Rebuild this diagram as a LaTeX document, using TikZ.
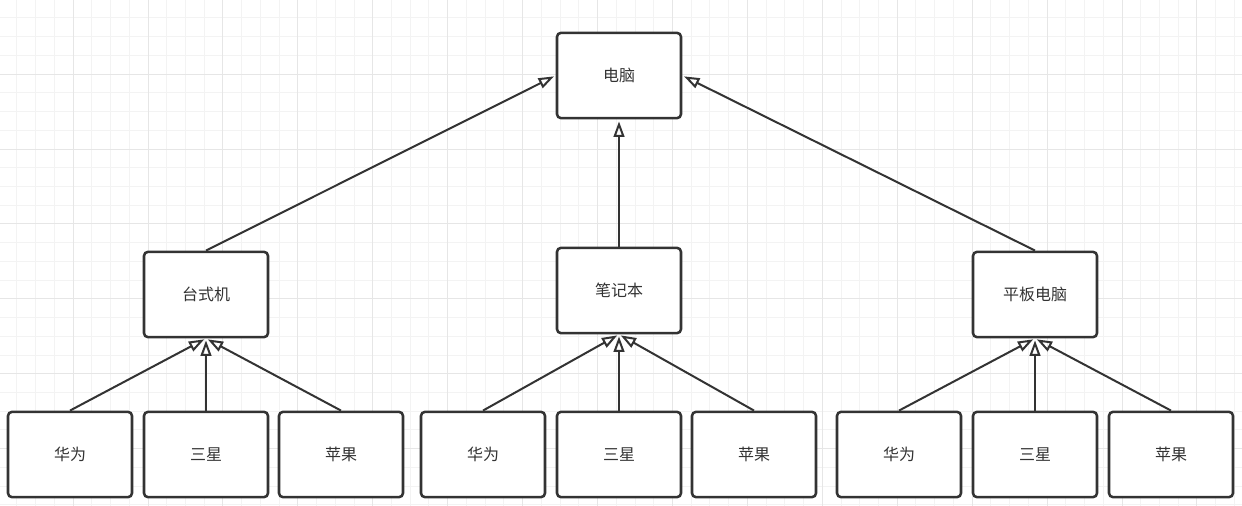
\documentclass[tikz,border=0pt]{standalone}
\usepackage{fontspec}
\newfontfamily\cjk{Noto Sans CJK SC}
\usepackage{tikz}
\usetikzlibrary{arrows.meta, positioning}

\definecolor{gridminor}{HTML}{F3F3F3}
\definecolor{gridmajor}{HTML}{E6E6E6}
\definecolor{boxline}{HTML}{333333}

\tikzset{
    itembox/.style={draw=boxline, line width=1.9pt, rounded corners=3pt, fill=white,
        minimum width=93pt, minimum height=64pt, inner sep=0pt,
        font=\cjk\fontsize{12}{14}\selectfont, text=boxline},
    inherit/.style={draw=boxline, line width=1.5pt, shorten >=1.5pt,
        -{Triangle[open, length=11.5pt, width=8pt, line width=1.5pt]}}
}

\begin{document}
\begin{tikzpicture}[x=0.75pt, y=-0.75pt]
    \useasboundingbox (0,0) rectangle (1242,506);
    \fill[white] (0,0) rectangle (1242,506);

    % background grid
    \foreach \i in {0,...,67} {
        \pgfmathsetmacro{\gx}{-1.9+18.73*\i}
        \pgfmathsetmacro{\gy}{-0.9+18.73*\i}
        \draw[gridminor, line width=0.6pt] (\gx,0) -- (\gx,506);
        \ifnum\i<28 \draw[gridminor, line width=0.6pt] (0,\gy) -- (1242,\gy); \fi
    }
    \foreach \i in {0,...,16} {
        \pgfmathsetmacro{\gx}{-1.9+74.92*\i}
        \pgfmathsetmacro{\gy}{-0.9+74.92*\i}
        \draw[gridmajor, line width=0.6pt] (\gx,0) -- (\gx,506);
        \ifnum\i<7 \draw[gridmajor, line width=0.6pt] (0,\gy) -- (1242,\gy); \fi
    }

    % top level
    \node[itembox] (pc) at (619,75.5) {电脑};

    % categories
    \node[itembox] (desktop) at (206,294.5) {台式机};
    \node[itembox] (laptop) at (619,290.5) {笔记本};
    \node[itembox] (tablet) at (1035,294.5) {平板电脑};

    % brands under desktop
    \node[itembox] (dHuawei) at (70,454.5) {华为};
    \node[itembox] (dSamsung) at (206,454.5) {三星};
    \node[itembox] (dApple) at (341,454.5) {苹果};

    % brands under laptop
    \node[itembox] (lHuawei) at (483,454.5) {华为};
    \node[itembox] (lSamsung) at (619,454.5) {三星};
    \node[itembox] (lApple) at (754,454.5) {苹果};

    % brands under tablet
    \node[itembox] (tHuawei) at (899,454.5) {华为};
    \node[itembox] (tSamsung) at (1035,454.5) {三星};
    \node[itembox] (tApple) at (1171,454.5) {苹果};

    % inheritance arrows
    \draw[inherit] (desktop.north) -- (pc.west);
    \draw[inherit] (laptop.north) -- (pc.south);
    \draw[inherit] (tablet.north) -- (pc.east);

    \draw[inherit] (dHuawei.north) -- (desktop.south);
    \draw[inherit] (dSamsung.north) -- (desktop.south);
    \draw[inherit] (dApple.north) -- (desktop.south);

    \draw[inherit] (lHuawei.north) -- (laptop.south);
    \draw[inherit] (lSamsung.north) -- (laptop.south);
    \draw[inherit] (lApple.north) -- (laptop.south);

    \draw[inherit] (tHuawei.north) -- (tablet.south);
    \draw[inherit] (tSamsung.north) -- (tablet.south);
    \draw[inherit] (tApple.north) -- (tablet.south);
\end{tikzpicture}
\end{document}
